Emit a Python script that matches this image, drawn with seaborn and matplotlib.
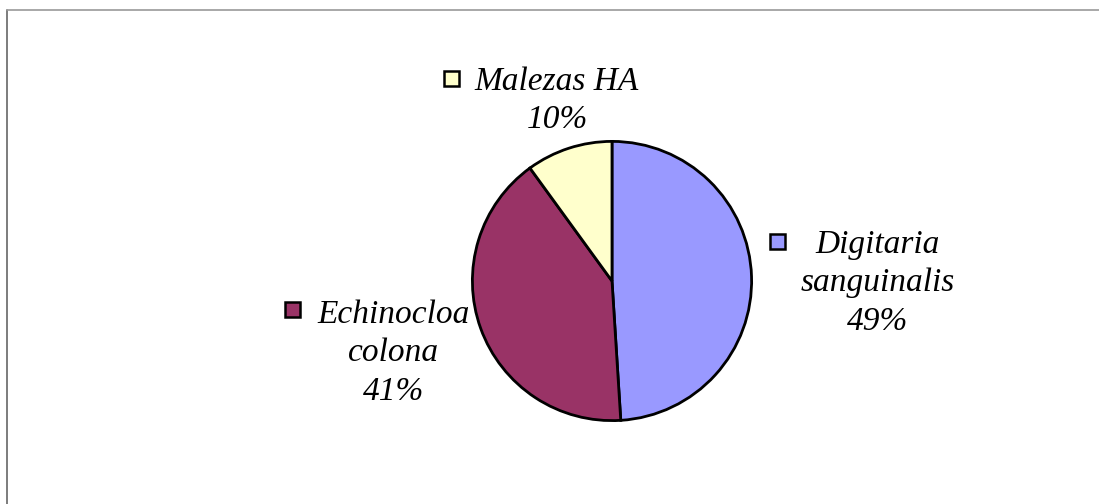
import matplotlib
matplotlib.use("Agg")
import matplotlib.pyplot as plt
from matplotlib.patches import Rectangle
from matplotlib.lines import Line2D
import seaborn as sns

# Weed species share
species = ["Digitaria\nsanguinalis", "Echinocloa\ncolona", "Malezas HA"]
shares = [49, 41, 10]
colors = ["#9999FF", "#993366", "#FFFFCC"]

sns.set_theme(style="white")
plt.rcParams["font.family"] = ["Liberation Serif", "DejaVu Serif"]

W, H = 1099, 504
fig = plt.figure(figsize=(W / 100, H / 100), dpi=100)
fig.patch.set_facecolor("white")


def px(x, y):
    """Pixel position (from top-left) to figure fraction."""
    return x / W, 1 - y / H


# Pie placed in a square box centred on (612, 281) with radius 141 px
cx, cy, r = 612, 281, 141
ax = fig.add_axes([(cx - r) / W, (H - cy - r) / H, 2 * r / W, 2 * r / H])
ax.pie(shares, colors=colors, startangle=90, counterclock=False,
       wedgeprops=dict(edgecolor="black", linewidth=2), radius=1)
ax.set_xlim(-1.01, 1.01)
ax.set_ylim(-1.01, 1.01)
ax.set_aspect("auto")
ax.axis("off")

# Labels with a small colour key in front
label_pos = [(878, 283, 777, 241), (394, 353, 292, 309), (557, 101, 451, 78)]
for name, val, col, (tx, ty, kx, ky) in zip(species, shares, colors, label_pos):
    fig.text(*px(tx, ty), f"{name}\n{val}%", ha="center", va="center",
             multialignment="center", fontsize=24, style="italic",
             linespacing=1.33, color="black")
    k = 15
    x0, y0 = px(kx - k / 2, ky + k / 2)
    fig.patches.append(Rectangle((x0, y0), k / W, k / H, transform=fig.transFigure,
                                 facecolor=col, edgecolor="black", linewidth=1.8))

# Chart frame (top and left edges)
fig.lines.append(Line2D([7 / W, 7 / W], [0, 1 - 10 / H], transform=fig.transFigure,
                        color="#666666", linewidth=1.2))
fig.lines.append(Line2D([7 / W, 1], [1 - 10 / H, 1 - 10 / H], transform=fig.transFigure,
                        color="#999999", linewidth=1.2))

fig.savefig("out.png", dpi=100, facecolor="white")
